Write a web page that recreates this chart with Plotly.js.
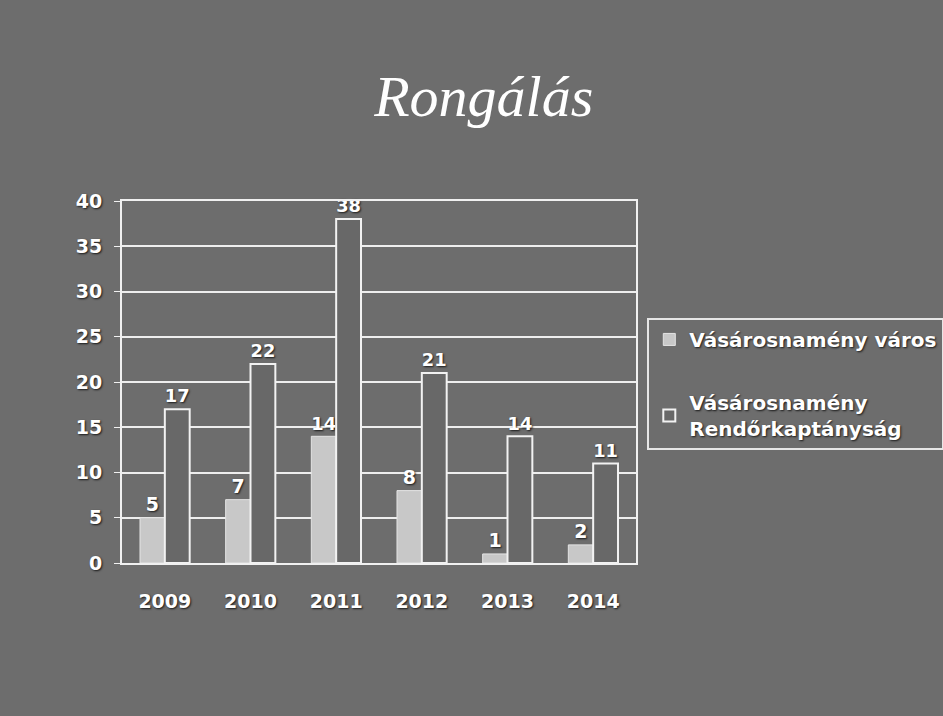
<!DOCTYPE html>
<html><head><meta charset="utf-8">
<script src="https://cdn.plot.ly/plotly-3.0.1.min.js"></script>
<style>body{margin:0;background:#6d6d6d}</style>
</head><body>
<div id="chart" style="width:943px;height:716px"></div>
<script>
const years = ['2009','2010','2011','2012','2013','2014'];
const varos = [5, 7, 14, 8, 1, 2];
const kapitanysag = [17, 22, 38, 21, 14, 11];
const seriesNames = ['Vásárosnamény város', 'Vásárosnamény<br>Rendőrkaptányság'];

const labelFont = {family:'DejaVu Sans, sans-serif', size:19, color:'#ffffff', weight:'bold', shadow:'1px 1px 2px #1a1a1a'};

const traces = [
  {type:'bar', x:years, y:varos, name:seriesNames[0], legendgroup:'a', text:varos.map(String), textposition:'outside',
   textfont:labelFont, cliponaxis:false,
   marker:{color:'#c8c8c8', line:{color:'#e4e4e4', width:1}}},
  {type:'bar', x:years, y:kapitanysag, name:seriesNames[1], legendgroup:'b', text:kapitanysag.map(String), textposition:'outside',
   textfont:labelFont, cliponaxis:false,
   marker:{color:'#686868', line:{color:'#f2f2f2', width:2}}}
];

const layout = {
  width:943, height:716,
  paper_bgcolor:'#6d6d6d', plot_bgcolor:'#6d6d6d',
  margin:{l:122, r:307, t:201, b:153, autoexpand:false},
  title:{text:'Rongálás', x:0.513, xanchor:'center', y:0.866, yanchor:'middle',
    font:{family:'Liberation Serif, Times New Roman, serif', size:58, color:'#ffffff', style:'italic'}},
  barmode:'group', bargap:0.42, bargroupgap:0,
  showlegend:true,
  legend:{x:1.022, xanchor:'left', y:0.677, yanchor:'top', bgcolor:'rgba(0,0,0,0)',
    traceorder:'grouped', tracegroupgap:34,
    bordercolor:'#e6e6e6', borderwidth:2,
    font:{family:'DejaVu Sans, sans-serif', size:20, color:'#ffffff', weight:'bold', shadow:'1px 1px 2px #1a1a1a'}},
  xaxis:{type:'category', showgrid:false, showline:true, linecolor:'#f0f0f0', linewidth:2, mirror:true,
    ticks:'', tickfont:labelFont, ticklabelstandoff:20},
  yaxis:{range:[0,40], dtick:5, showgrid:true, gridcolor:'#eeeeee', gridwidth:2,
    showline:true, linecolor:'#f0f0f0', linewidth:2, mirror:true, zeroline:false,
    ticks:'outside', ticklen:6, tickcolor:'#f0f0f0', tickfont:labelFont, ticklabelstandoff:8}
};
Plotly.newPlot('chart', traces, layout, {displayModeBar:false});
</script>
</body></html>
